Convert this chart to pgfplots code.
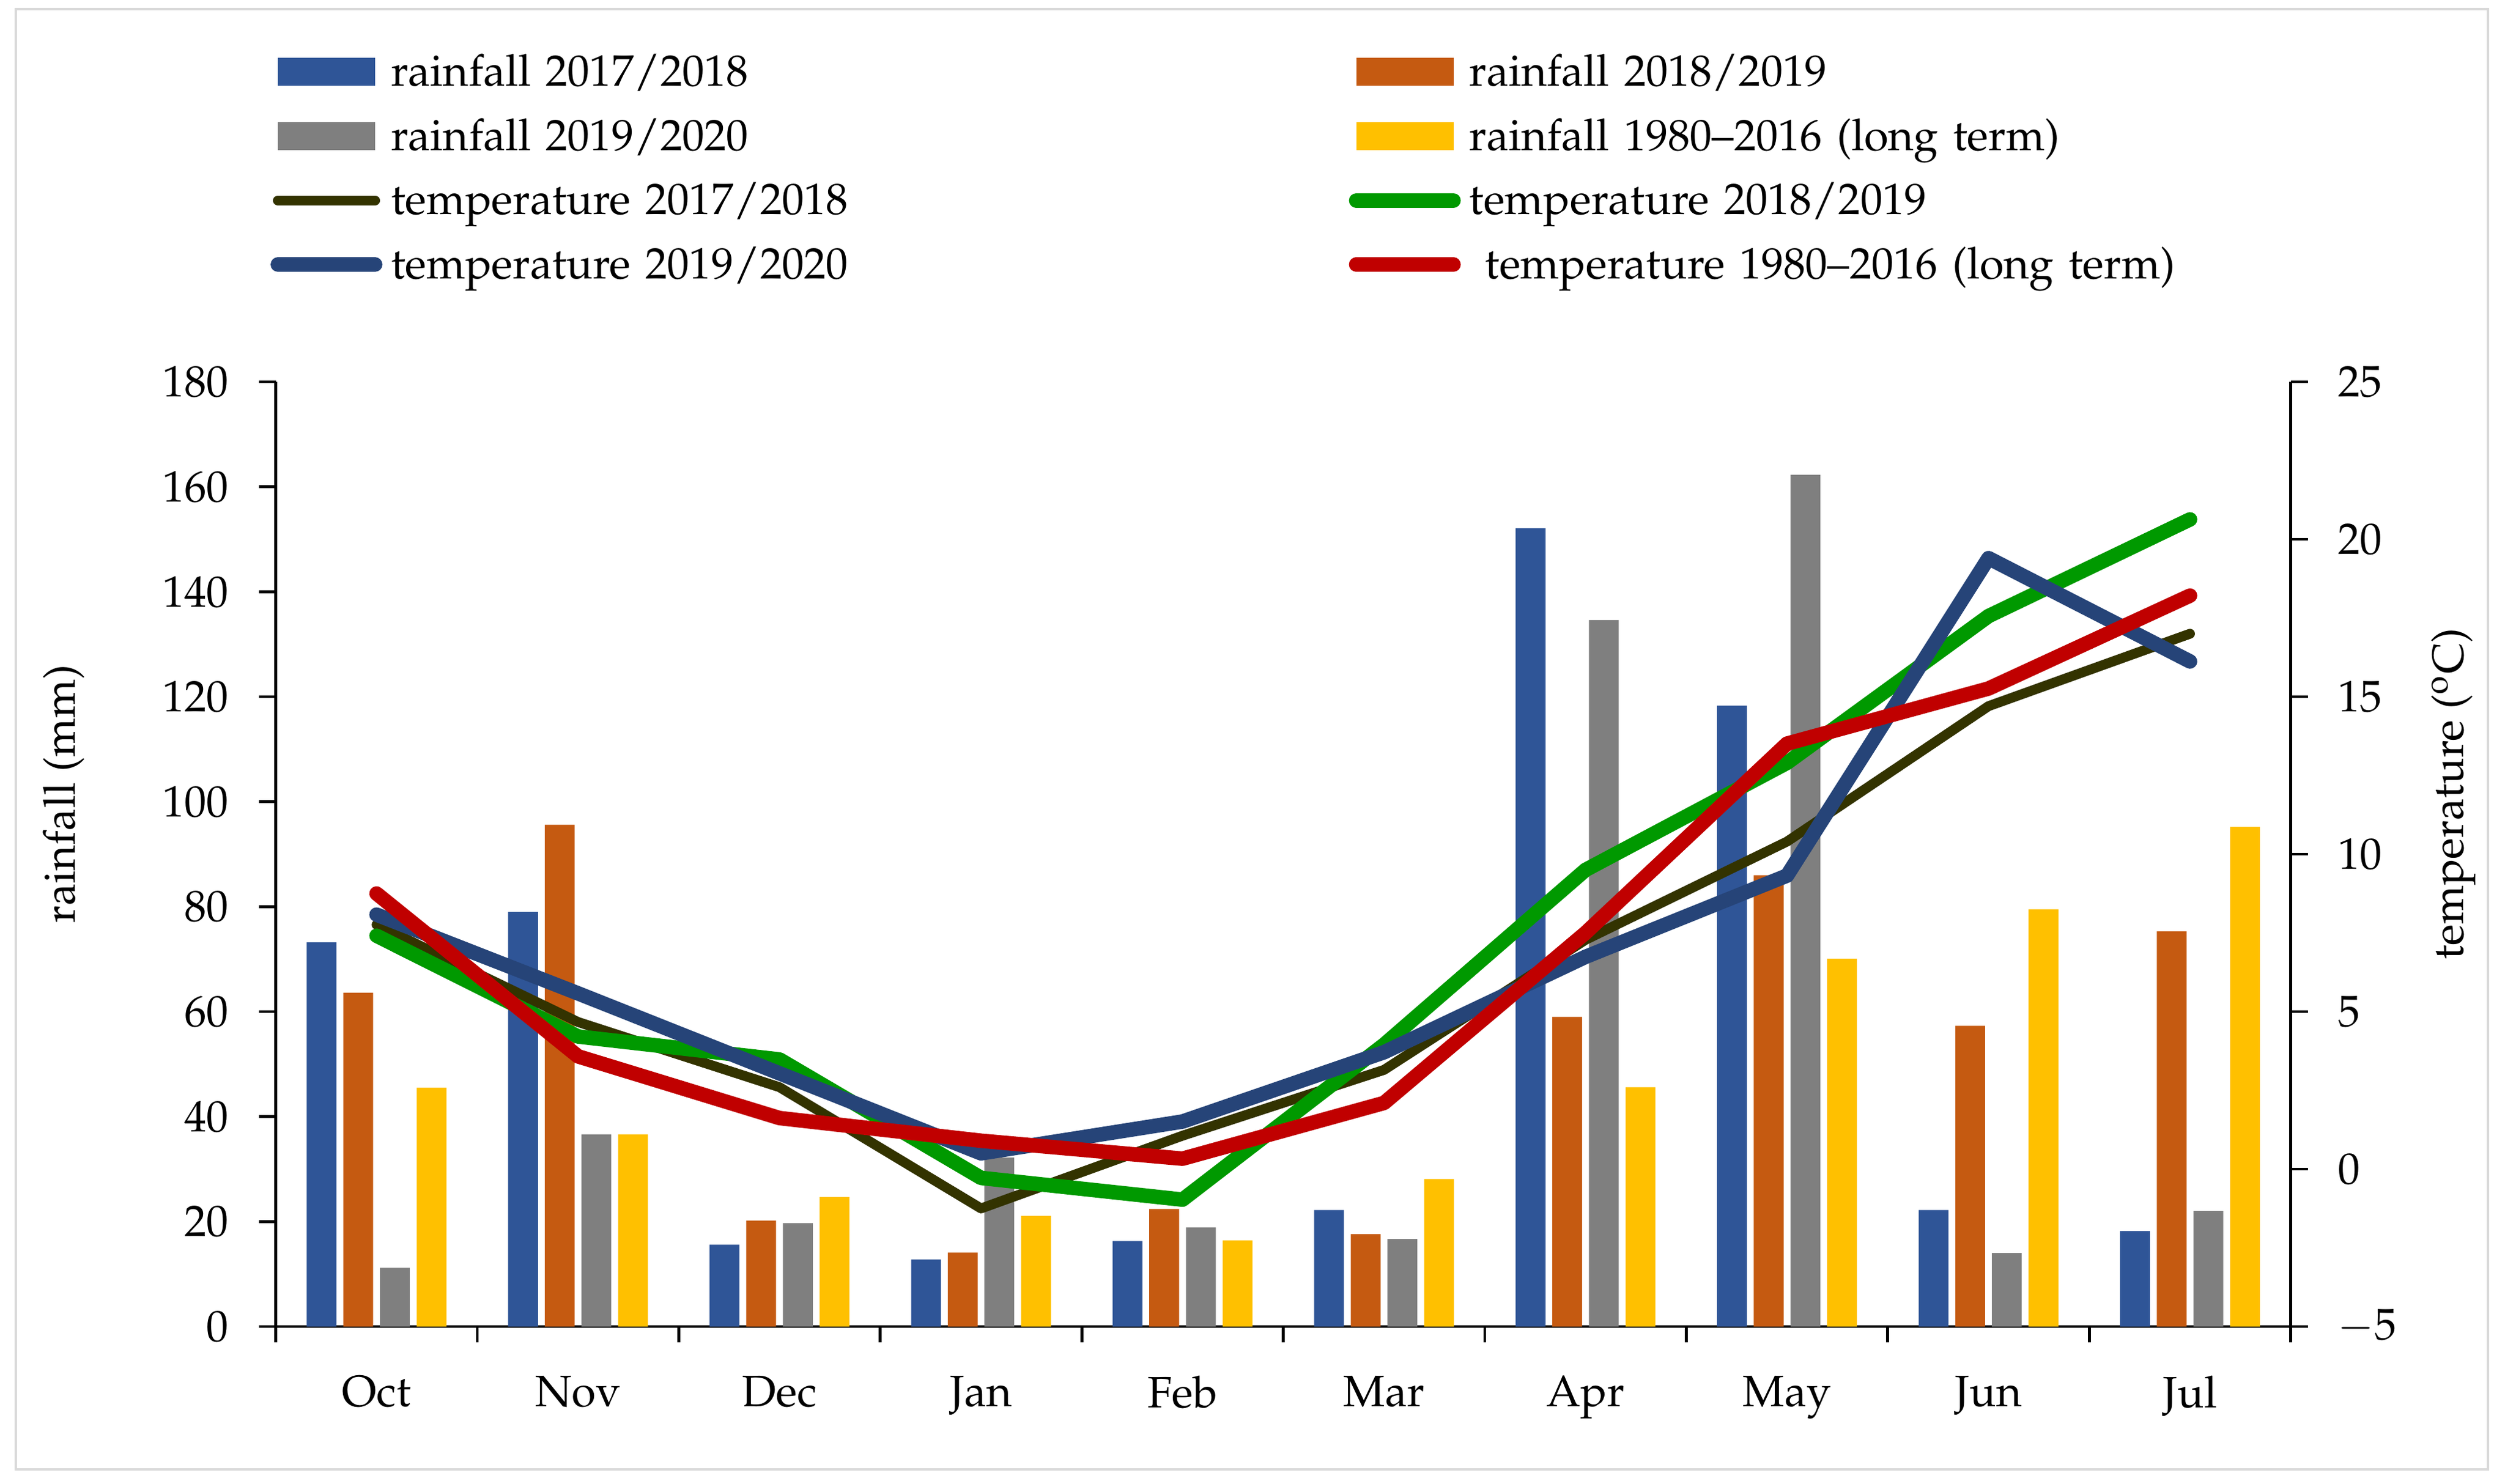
\documentclass[border=0pt]{standalone}
\usepackage[T1]{fontenc}
\usepackage{mathpazo}
\usepackage{pgfplots}
\pgfplotsset{compat=1.18}
\definecolor{cA}{HTML}{2F5597}
\definecolor{cB}{HTML}{C55A11}
\definecolor{cC}{HTML}{7F7F7F}
\definecolor{cD}{HTML}{FFC000}
\definecolor{tA}{HTML}{333300}
\definecolor{tB}{HTML}{009900}
\definecolor{tC}{HTML}{264478}
\definecolor{tD}{HTML}{C00000}
\pgfplotsset{
  barleg/.style={legend image code/.code={\fill[##1, draw=none] (0mm,-1.15mm) rectangle (8mm,1.15mm);}},
  lineleg/.style={legend image code/.code={\draw[##1] (0mm,0mm) -- (8mm,0mm);}},
  common/.style={
    scale only axis, width=165.7mm, height=77.7mm,
    at={(22.68mm,12.9mm)}, anchor=south west,
    xmin=-0.5, xmax=9.5,
    font=\fontsize{10.3}{12}\selectfont,
    axis line style={-, line width=0.7pt},
    tick style={line width=0.7pt, black},
    tick align=outside, major tick length=1.4mm,
  },
}
\begin{document}
\begin{tikzpicture}
\path[use as bounding box] (0,0) rectangle (206mm,122mm);
\draw[draw=black!15, line width=0.7pt] (1.3mm,1.15mm) rectangle (204.6mm,121.25mm);
\begin{axis}[common,
  ymin=0, ymax=180, ytick={0,20,...,180},
  axis x line*=bottom, axis y line*=left,
  xtick={0,...,9},
  xticklabels={Oct,Nov,Dec,Jan,Feb,Mar,Apr,May,Jun,Jul},
  major x tick style={draw=none},
  minor xtick={-0.5,0.5,...,9.5},
  minor tick length=1.3mm,
  minor x tick style={line width=0.7pt, black},
  xticklabel style={inner sep=0pt, yshift=-2.6mm},
  yticklabel style={inner sep=0pt, xshift=-2.4mm},
  ylabel={rainfall (mm)},
  ylabel style={at={(axis description cs:-0.1052,0.5637)}, anchor=center},
  ybar, bar width=0.148,
]
\addplot[fill=cA, draw=none, bar shift=-0.273] coordinates {(0,73.2) (1,79.0) (2,15.6) (3,12.8) (4,16.3) (5,22.2) (6,152.1) (7,118.3) (8,22.2) (9,18.2)};
\addplot[fill=cB, draw=none, bar shift=-0.091] coordinates {(0,63.6) (1,95.6) (2,20.2) (3,14.1) (4,22.4) (5,17.6) (6,59.0) (7,86.0) (8,57.3) (9,75.3)};
\addplot[fill=cC, draw=none, bar shift=0.091] coordinates {(0,11.2) (1,36.6) (2,19.7) (3,32.2) (4,18.9) (5,16.7) (6,134.6) (7,162.3) (8,14.0) (9,22.0)};
\addplot[fill=cD, draw=none, bar shift=0.273] coordinates {(0,45.5) (1,36.6) (2,24.7) (3,21.1) (4,16.4) (5,28.1) (6,45.6) (7,70.1) (8,79.5) (9,95.2)};
\end{axis}
\begin{axis}[common,
  ymin=-5, ymax=25, ytick={-5,0,...,25},
  axis x line=none, axis y line*=right,
  yticklabel style={inner sep=0pt, xshift=2.4mm},
  ylabel={temperature (\textsuperscript{o}C)},
  ylabel style={at={(axis description cs:1.0807,0.5637)}, anchor=center, rotate=0},
  legend columns=2,
  legend style={at={(rel axis cs:-0.003,1.3628)}, anchor=north west,
    draw=none, fill=none, inner sep=0pt, row sep=0pt, column sep=0pt,
    font=\fontsize{10.3}{12}\selectfont,
    nodes={inner sep=0pt, inner xsep=2pt, text height=3.79mm, text depth=1.49mm, text width=78.08mm, align=left}},
  legend cell align=left,
  every axis plot/.append style={line cap=round, line join=round},
]
\addlegendimage{barleg, fill=cA}
\addlegendentry{rainfall 2017/2018}
\addlegendimage{barleg, fill=cB}
\addlegendentry{rainfall 2018/2019}
\addlegendimage{barleg, fill=cC}
\addlegendentry{rainfall 2019/2020}
\addlegendimage{barleg, fill=cD}
\addlegendentry{rainfall 1980--2016 (long term)}
\addplot[lineleg, tA, line width=2.3pt] coordinates {(0,7.76) (1,4.67) (2,2.6) (3,-1.25) (4,1.06) (5,3.15) (6,7.28) (7,10.4) (8,14.7) (9,17.0)};
\addlegendentry{temperature 2017/2018}
\addplot[lineleg, tB, line width=3.4pt] coordinates {(0,7.41) (1,4.21) (2,3.48) (3,-0.28) (4,-0.97) (5,3.95) (6,9.5) (7,12.9) (8,17.56) (9,20.63)};
\addlegendentry{temperature 2018/2019}
\addplot[lineleg, tC, line width=3.4pt] coordinates {(0,8.08) (1,5.58) (2,3.04) (3,0.5) (4,1.51) (5,3.71) (6,6.74) (7,9.32) (8,19.4) (9,16.12)};
\addlegendentry{temperature 2019/2020}
\addplot[lineleg, tD, line width=3.4pt] coordinates {(0,8.75) (1,3.58) (2,1.62) (3,0.9) (4,0.33) (5,2.10) (6,7.5) (7,13.51) (8,15.26) (9,18.21)};
\addlegendentry{\hspace{1.3mm}temperature 1980--2016 (long term)}
\end{axis}
\end{tikzpicture}
\end{document}
